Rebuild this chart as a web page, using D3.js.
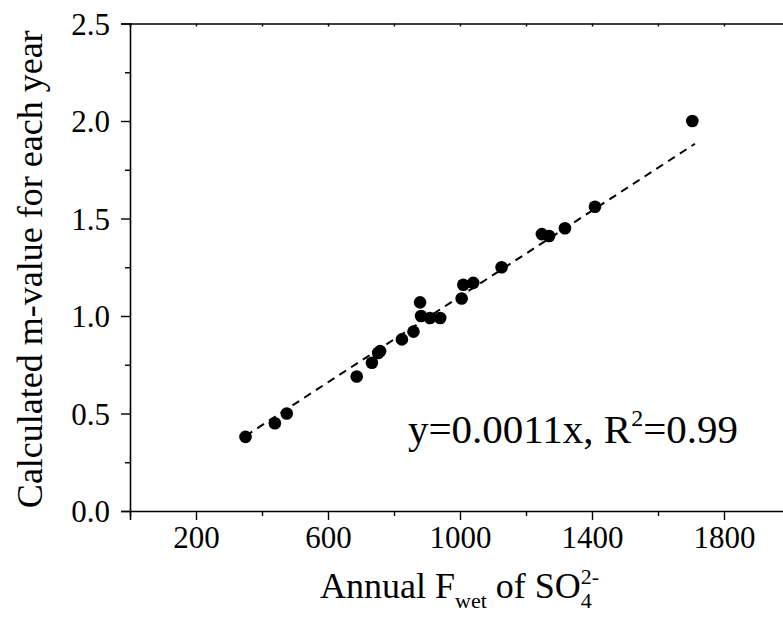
<!DOCTYPE html>
<html>
<head>
<meta charset="utf-8">
<script src="https://cdn.jsdelivr.net/npm/d3@7"></script>
<style>
  html, body { margin: 0; padding: 0; background: #fff; }
  svg text { font-family: "Liberation Serif", "Times New Roman", serif; fill: #000; }
</style>
</head>
<body>
<svg id="chart" width="783" height="622"></svg>
<script>
// ---- data ----
const fwet = [350, 439, 475, 687, 733, 752, 758, 824, 859, 879, 882, 909, 940, 1005, 1010, 1040, 1126, 1248, 1270, 1318, 1409, 1704];
const mValue = [0.38, 0.45, 0.50, 0.69, 0.76, 0.81, 0.82, 0.88, 0.92, 1.07, 1.00, 0.99, 0.99, 1.09, 1.16, 1.17, 1.25, 1.42, 1.41, 1.45, 1.56, 2.00];
const fitSlope = 0.0011;
const fitRange = [350, 1712];
const xMajorTicks = [200, 600, 1000, 1400, 1800];
const xMinorTicks = [0, 400, 800, 1200, 1600, 2000];
const yMajorTicks = [0.0, 0.5, 1.0, 1.5, 2.0, 2.5];
const yMinorTicks = [0.25, 0.75, 1.25, 1.75, 2.25];

// ---- layout ----
const svg = d3.select("#chart");
const L = 130, T = 23.5, B = 511, R = 790;
const x = d3.scaleLinear().domain([0, 2000]).range([L, R]);
const y = d3.scaleLinear().domain([0, 2.5]).range([B, T]);

// axes
const fmtY = d3.format(".1f");
const gx = svg.append("g").attr("transform", `translate(0,${B})`)
  .call(d3.axisBottom(x).tickValues(xMajorTicks).tickSize(9).tickPadding(6).tickFormat(d3.format("d")));
const gxm = svg.append("g").attr("transform", `translate(0,${B})`)
  .call(d3.axisBottom(x).tickValues(xMinorTicks).tickSize(5).tickFormat(""));
const gy = svg.append("g").attr("transform", `translate(${L},0)`)
  .call(d3.axisLeft(y).tickValues(yMajorTicks).tickSize(9).tickPadding(11).tickFormat(fmtY));
const gym = svg.append("g").attr("transform", `translate(${L},0)`)
  .call(d3.axisLeft(y).tickValues(yMinorTicks).tickSize(5).tickFormat(""));
const gt = svg.append("g").attr("transform", `translate(0,${T})`)
  .call(d3.axisBottom(x).tickValues(xMajorTicks.concat(xMinorTicks)).tickSize(3).tickFormat(""));
const gr = svg.append("g").attr("transform", `translate(${R},0)`)
  .call(d3.axisRight(y).tickValues(yMajorTicks.concat(yMinorTicks)).tickSize(3).tickFormat(""));

[gx, gxm, gy, gym, gt, gr].forEach(g => {
  g.attr("font-family", "Liberation Serif").attr("font-size", 31);
  g.selectAll(".domain").attr("stroke", "#000").attr("stroke-width", 1.6);
  g.selectAll(".tick line").attr("stroke", "#000").attr("stroke-width", 1.4);
});
gxm.select(".domain").remove(); gym.select(".domain").remove();
gx.selectAll(".tick text").attr("font-family", "Liberation Serif").style("font-size", "31px");
gy.selectAll(".tick text").attr("font-family", "Liberation Serif").style("font-size", "31px").attr("dy", "0.34em");

// fit line
const fitLine = d3.line().x(d => x(d)).y(d => y(d * fitSlope));
svg.append("path").datum(fitRange)
  .attr("d", fitLine)
  .attr("fill", "none").attr("stroke", "#000").attr("stroke-width", 2)
  .attr("stroke-dasharray", "8,6");

// points
svg.append("g").selectAll("circle").data(fwet.map((v, i) => [v, mValue[i]]))
  .join("circle")
  .attr("cx", d => x(d[0])).attr("cy", d => y(d[1])).attr("r", 6.3).attr("fill", "#000");

// annotation
const ann = svg.append("text").attr("x", 408).attr("y", 443).style("font-size", "41px");
ann.append("tspan").text("y=0.0011x, R");
ann.append("tspan").style("font-size", "24px").attr("dy", -17).text("2");
ann.append("tspan").attr("dy", 17).text("=0.99");

// y title
svg.append("text").attr("transform", `translate(42,${(T + B) / 2 + 2}) rotate(-90)`)
  .attr("text-anchor", "middle").style("font-size", "36px")
  .text("Calculated m-value for each year");

// x title
const xt = svg.append("text").attr("x", 320).attr("y", 598).style("font-size", "36px");
xt.append("tspan").text("Annual F");
xt.append("tspan").style("font-size", "22px").attr("dy", 10).text("wet");
xt.append("tspan").attr("dy", -10).text(" of SO");
xt.append("tspan").style("font-size", "22px").attr("dy", 10).text("4");
xt.append("tspan").style("font-size", "22px").attr("dx", -11).attr("dy", -24).text("2-");
</script>
</body>
</html>
